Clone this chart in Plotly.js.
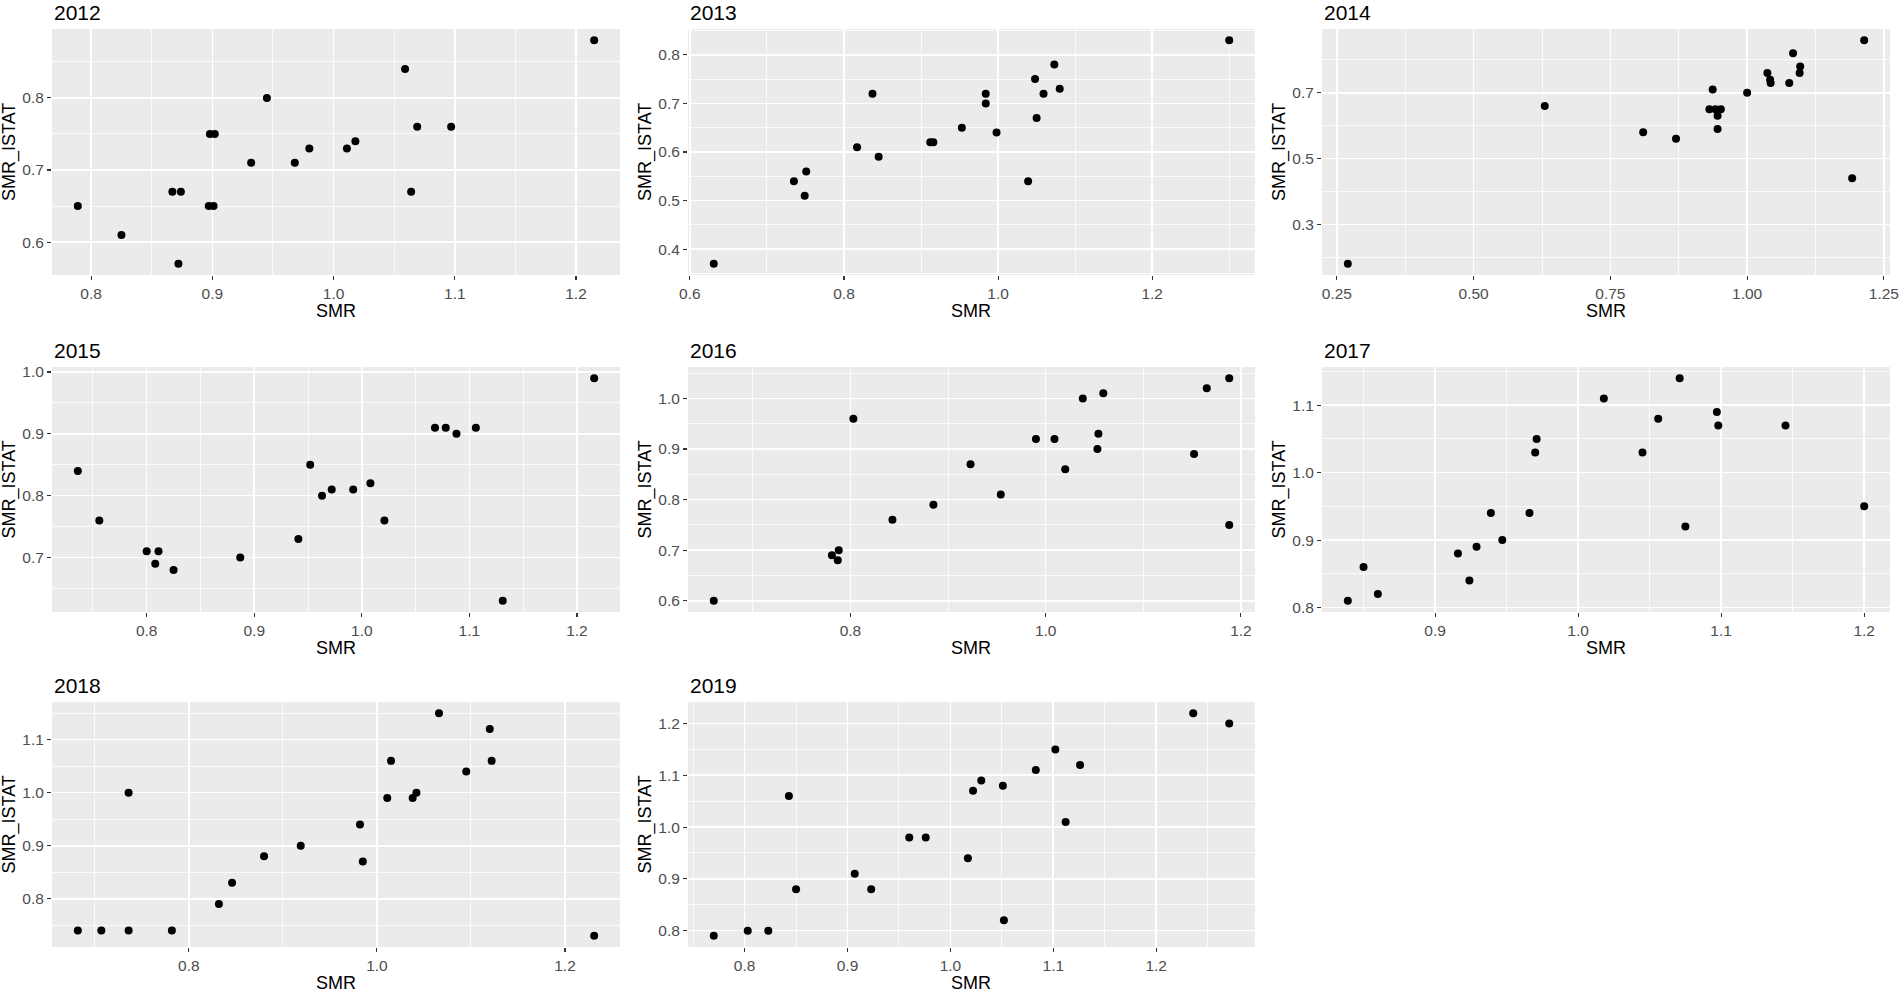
<!DOCTYPE html>
<html><head><meta charset="utf-8">
<script src="https://cdn.plot.ly/plotly-3.0.1.min.js"></script>
<style>html,body{margin:0;padding:0;background:#fff;} #chart{width:1900px;height:993px;}</style>
</head><body><div id="chart"></div>
<script>
const years = ["2012","2013","2014","2015","2016","2017","2018","2019"];
const xTitle = "SMR";
const yTitle = "SMR_ISTAT";

const smr2012 = [0.789,0.825,0.867,0.874,0.872,0.897,0.901,0.898,0.902,0.932,0.945,0.968,0.980,1.011,1.018,1.059,1.064,1.069,1.097,1.215];
const istat2012 = [0.65,0.61,0.67,0.67,0.57,0.65,0.65,0.75,0.75,0.71,0.80,0.71,0.73,0.73,0.74,0.84,0.67,0.76,0.76,0.88];

const smr2013 = [0.631,0.735,0.751,0.749,0.817,0.837,0.845,0.912,0.916,0.953,0.984,0.984,0.998,1.039,1.048,1.050,1.059,1.073,1.080,1.300];
const istat2013 = [0.37,0.54,0.56,0.51,0.61,0.72,0.59,0.62,0.62,0.65,0.72,0.70,0.64,0.54,0.75,0.67,0.72,0.78,0.73,0.83];

const smr2014 = [0.27,0.63,0.81,0.87,0.931,0.937,0.942,0.952,0.946,0.946,1.00,1.037,1.042,1.043,1.077,1.084,1.097,1.096,1.192,1.214];
const istat2014 = [0.18,0.66,0.58,0.56,0.65,0.71,0.65,0.65,0.63,0.59,0.70,0.76,0.74,0.73,0.73,0.82,0.78,0.76,0.44,0.86];

const smr2015 = [0.736,0.756,0.800,0.811,0.808,0.825,0.887,0.941,0.952,0.963,0.972,0.992,1.008,1.021,1.068,1.078,1.088,1.106,1.131,1.216];
const istat2015 = [0.84,0.76,0.71,0.71,0.69,0.68,0.70,0.73,0.85,0.80,0.81,0.81,0.82,0.76,0.91,0.91,0.90,0.91,0.63,0.99];

const smr2016 = [0.660,0.781,0.788,0.787,0.803,0.843,0.885,0.923,0.954,0.990,1.009,1.020,1.038,1.059,1.054,1.053,1.152,1.165,1.188,1.188];
const istat2016 = [0.60,0.69,0.70,0.68,0.96,0.76,0.79,0.87,0.81,0.92,0.92,0.86,1.00,1.01,0.93,0.90,0.89,1.02,1.04,0.75];

const smr2017 = [0.839,0.850,0.860,0.916,0.924,0.929,0.939,0.947,0.966,0.971,0.970,1.018,1.045,1.056,1.071,1.075,1.097,1.098,1.145,1.200];
const istat2017 = [0.81,0.86,0.82,0.88,0.84,0.89,0.94,0.90,0.94,1.05,1.03,1.11,1.03,1.08,1.14,0.92,1.09,1.07,1.07,0.95];

const smr2018 = [0.682,0.707,0.736,0.736,0.782,0.832,0.846,0.880,0.919,0.982,0.985,1.011,1.015,1.038,1.042,1.066,1.095,1.120,1.122,1.231];
const istat2018 = [0.74,0.74,0.74,1.00,0.74,0.79,0.83,0.88,0.90,0.94,0.87,0.99,1.06,0.99,1.00,1.15,1.04,1.12,1.06,0.73];

const smr2019 = [0.770,0.803,0.823,0.843,0.850,0.907,0.923,0.960,0.976,1.017,1.022,1.030,1.051,1.052,1.083,1.102,1.112,1.126,1.236,1.271];
const istat2019 = [0.79,0.80,0.80,1.06,0.88,0.91,0.88,0.98,0.98,0.94,1.07,1.09,1.08,0.82,1.11,1.15,1.01,1.12,1.22,1.20];

const smrSeries = [smr2012,smr2013,smr2014,smr2015,smr2016,smr2017,smr2018,smr2019];
const istatSeries = [istat2012,istat2013,istat2014,istat2015,istat2016,istat2017,istat2018,istat2019];

// axis break spacing per panel (step, offset, decimals)
const tickCfg = [
  {xd:0.1, x0:0, xdec:1, yd:0.1, y0:0, ydec:1},
  {xd:0.2, x0:0, xdec:1, yd:0.1, y0:0, ydec:1},
  {xd:0.25, x0:0, xdec:2, yd:0.2, y0:0.1, ydec:1},
  {xd:0.1, x0:0, xdec:1, yd:0.1, y0:0, ydec:1},
  {xd:0.2, x0:0, xdec:1, yd:0.1, y0:0, ydec:1},
  {xd:0.1, x0:0, xdec:1, yd:0.1, y0:0, ydec:1},
  {xd:0.2, x0:0, xdec:1, yd:0.1, y0:0, ydec:1},
  {xd:0.1, x0:0, xdec:1, yd:0.1, y0:0, ydec:1}
];

const W = 1900, H = 993;
const colPx = [[52,620],[688,1255],[1322,1890]];
const rowPx = [[29,275],[367,612],[702,947]];
const FONT = 'Liberation Sans, Arial, Helvetica, sans-serif';

function expand(arr){
  const mn = Math.min(...arr), mx = Math.max(...arr), d = (mx-mn)*0.05;
  return [mn-d, mx+d];
}
function breaks(range, step, off){
  const major = [], minor = [];
  const k0 = Math.ceil((range[0]-off)/step - 1e-9) - 1;
  const k1 = Math.floor((range[1]-off)/step + 1e-9) + 1;
  for (let k = k0; k <= k1; k++){
    const v = +(off + k*step).toFixed(6);
    if (v >= range[0] && v <= range[1]) major.push(v);
    const m = +(off + (k+0.5)*step).toFixed(6);
    if (m >= range[0] && m <= range[1]) minor.push(m);
  }
  return {major, minor};
}

const data = [];
const layout = {
  width: W, height: H,
  margin: {l:0,r:0,t:0,b:0},
  paper_bgcolor: '#FFFFFF',
  plot_bgcolor: '#EBEBEB',
  showlegend: false,
  annotations: []
};

years.forEach((yr, i) => {
  const c = i % 3, r = Math.floor(i / 3);
  const n = i === 0 ? '' : String(i+1);
  const cfg = tickCfg[i];
  data.push({
    type: 'scatter', mode: 'markers',
    x: smrSeries[i], y: istatSeries[i],
    xaxis: 'x'+n, yaxis: 'y'+n,
    marker: {color: '#000000', size: 8},
    hoverinfo: 'x+y'
  });
  const xr = expand(smrSeries[i]), yr2 = expand(istatSeries[i]);
  const xb = breaks(xr, cfg.xd, cfg.x0), yb = breaks(yr2, cfg.yd, cfg.y0);
  const xd = [colPx[c][0]/W, colPx[c][1]/W];
  const yd = [1 - rowPx[r][1]/H, 1 - rowPx[r][0]/H];
  const common = {
    showgrid: true, gridcolor: '#FFFFFF', gridwidth: 1.6,
    zeroline: false, showline: false,
    ticks: 'outside', ticklen: 4, tickwidth: 1.1, tickcolor: '#333333',
    tickfont: {family: FONT, size: 15.5, color: '#4D4D4D'},
    automargin: false, fixedrange: true, tickmode: 'array'
  };
  layout['xaxis'+n] = Object.assign({}, common, {
    domain: xd, anchor: 'y'+n, range: xr,
    tickvals: xb.major, ticktext: xb.major.map(v => v.toFixed(cfg.xdec)),
    minor: {tickmode: 'array', tickvals: xb.minor, showgrid: true, gridcolor: '#FFFFFF', gridwidth: 0.8, ticks: ''}
  });
  layout['yaxis'+n] = Object.assign({}, common, {
    domain: yd, anchor: 'x'+n, range: yr2,
    tickvals: yb.major, ticktext: yb.major.map(v => v.toFixed(cfg.ydec)),
    minor: {tickmode: 'array', tickvals: yb.minor, showgrid: true, gridcolor: '#FFFFFF', gridwidth: 0.8, ticks: ''}
  });
  layout.annotations.push({
    text: yr, xref: 'paper', yref: 'paper',
    x: colPx[c][0]/W, y: 1 - (rowPx[r][0]-17)/H,
    xanchor: 'left', yanchor: 'middle', showarrow: false,
    font: {family: FONT, size: 21, color: '#000000'}
  });
  layout.annotations.push({
    text: xTitle, xref: 'paper', yref: 'paper',
    x: (colPx[c][0]+colPx[c][1])/2/W, y: 1 - (rowPx[r][1]+36)/H,
    xanchor: 'center', yanchor: 'middle', showarrow: false,
    font: {family: FONT, size: 18, color: '#000000'}
  });
  layout.annotations.push({
    text: yTitle, xref: 'paper', yref: 'paper',
    x: (colPx[c][0]-43)/W, y: 1 - (rowPx[r][0]+rowPx[r][1])/2/H,
    xanchor: 'center', yanchor: 'middle', showarrow: false, textangle: -90,
    font: {family: FONT, size: 18, color: '#000000'}
  });
});

Plotly.newPlot('chart', data, layout, {displayModeBar: false, staticPlot: true});
</script>
</body></html>
